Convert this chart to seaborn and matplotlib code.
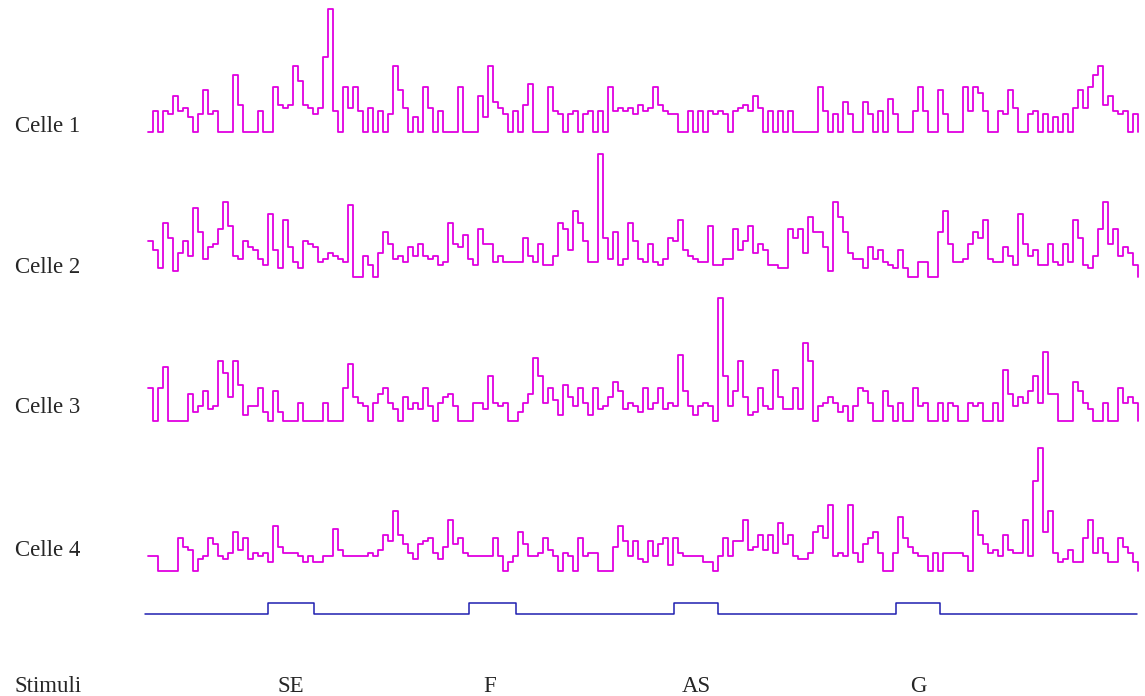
import matplotlib
matplotlib.use("Agg")
import matplotlib.pyplot as plt
import numpy as np
import pandas as pd
import seaborn as sns

# firing-rate traces, one value per time bin
celle_1 = [0, 7, 0, 7, 6, 12, 7, 8, 5, 0, 6, 14, 6, 7, 0, 0, 0, 19, 9, 0,
           0, 0, 7, 0, 0, 15, 9, 8, 9, 22, 17, 9, 8, 6, 8, 25, 41, 7, 0, 15,
           8, 15, 7, 0, 8, 0, 7, 0, 6, 22, 14, 8, 0, 5, 0, 15, 8, 0, 7, 0,
           0, 0, 15, 0, 0, 0,
           12, 5, 22, 10, 8, 6, 0, 7, 0, 9, 16, 0, 0, 0, 15, 7, 6, 0, 6, 7,
           0, 6, 7, 0, 7, 0, 15, 7, 8, 7, 8, 6, 9, 7, 8, 15, 9, 7, 6, 6,
           0, 0, 7, 0, 7, 0, 7, 6, 7, 6, 0, 7, 8, 9, 7, 12, 8, 0, 7, 0,
           7, 0, 7, 0, 0, 0,
           0, 0, 15, 7, 0, 6, 0, 10, 6, 0, 0, 10, 6, 0, 7, 0, 11, 6, 0, 0,
           0, 7, 15, 7, 0, 0, 14, 6, 0, 0, 0, 15, 7, 15, 13, 7, 0, 0, 7, 6,
           14, 8, 0, 0, 6, 7, 0, 6, 0, 5, 0, 6, 0, 8, 14, 8, 15, 19, 22, 9,
           12, 7, 6, 7, 0, 6, 0]
celle_2 = [12, 9, 3, 18, 13, 2, 8, 12, 7, 23, 15, 6, 10, 11, 16, 25, 17, 7, 6, 12,
           10, 9, 6, 4, 21, 9, 3, 19, 10, 5, 3, 12, 11, 10, 5, 6, 8, 7, 6, 5,
           24, 0, 0, 7, 4, 0, 8, 15, 11, 6, 7, 5, 10, 7, 11, 7, 6, 7, 4, 5,
           18, 11, 10, 14, 6, 4,
           16, 11, 11, 5, 7, 5, 5, 5, 5, 13, 7, 5, 11, 4, 4, 7, 18, 16, 9, 22,
           18, 12, 5, 5, 41, 13, 6, 15, 4, 6, 18, 12, 6, 5, 11, 5, 4, 6, 13, 12,
           19, 9, 7, 6, 5, 5, 17, 4, 4, 6, 6, 16, 9, 12, 17, 8, 11, 9, 4, 4,
           3, 3, 16, 13, 16, 8,
           20, 15, 15, 10, 2, 25, 20, 15, 8, 6, 6, 3, 10, 6, 9, 5, 4, 3, 9, 3,
           0, 0, 5, 5, 0, 0, 15, 22, 11, 5, 5, 6, 11, 15, 13, 19, 6, 5, 5, 10,
           7, 4, 21, 11, 7, 9, 4, 4, 11, 5, 4, 11, 5, 19, 13, 4, 3, 7, 16, 25,
           11, 16, 7, 10, 8, 4, 0]
celle_3 = [11, 0, 11, 18, 0, 0, 0, 0, 9, 3, 5, 10, 4, 5, 20, 16, 8, 20, 12, 2,
           5, 5, 11, 3, 0, 10, 3, 0, 0, 0, 6, 0, 0, 0, 0, 6, 0, 0, 0, 11,
           19, 8, 6, 5, 0, 6, 9, 11, 6, 4, 0, 8, 4, 6, 4, 11, 5, 0, 6, 8,
           9, 5, 0, 0, 0, 6,
           6, 4, 15, 6, 5, 6, 0, 0, 3, 6, 9, 21, 15, 6, 11, 7, 2, 12, 8, 5,
           11, 6, 2, 11, 4, 5, 8, 13, 10, 4, 6, 5, 3, 11, 4, 6, 11, 4, 6, 5,
           22, 10, 5, 2, 5, 6, 5, 0, 41, 15, 5, 10, 20, 8, 2, 3, 11, 5, 4, 17,
           8, 4, 4, 11, 4, 26,
           20, 0, 5, 6, 8, 6, 3, 5, 0, 5, 11, 10, 6, 0, 0, 10, 5, 0, 6, 0,
           0, 11, 5, 6, 0, 0, 6, 0, 6, 5, 0, 0, 6, 5, 6, 0, 0, 6, 0, 17,
           9, 5, 8, 6, 10, 15, 6, 23, 9, 9, 0, 0, 0, 13, 10, 6, 4, 0, 0, 6,
           0, 0, 11, 6, 8, 6, 0]
celle_4 = [5, 5, 0, 0, 0, 0, 11, 8, 7, 0, 4, 5, 11, 9, 5, 4, 6, 13, 7, 11,
           4, 6, 5, 6, 3, 15, 8, 6, 6, 6, 5, 3, 5, 3, 3, 5, 5, 14, 7, 5,
           5, 5, 5, 5, 6, 5, 7, 12, 10, 20, 12, 9, 6, 4, 9, 10, 11, 6, 4, 8,
           17, 9, 11, 6, 5, 5,
           5, 5, 5, 11, 5, 0, 3, 5, 13, 9, 5, 5, 6, 11, 7, 5, 0, 6, 5, 0,
           11, 5, 6, 6, 0, 0, 0, 8, 15, 10, 5, 10, 4, 3, 10, 5, 9, 11, 2, 11,
           6, 5, 5, 5, 5, 3, 3, 0, 5, 11, 5, 10, 10, 17, 7, 8, 12, 7, 12, 6,
           16, 9, 12, 5, 4, 4,
           6, 13, 15, 11, 22, 5, 6, 5, 22, 6, 3, 9, 11, 13, 6, 0, 0, 6, 18, 11,
           8, 6, 5, 5, 0, 6, 0, 6, 6, 6, 6, 5, 0, 20, 12, 9, 6, 7, 5, 12,
           7, 6, 6, 17, 5, 30, 41, 13, 20, 6, 3, 4, 7, 3, 3, 11, 17, 6, 11, 6,
           3, 3, 11, 8, 6, 3, 0]

cell_names = ["Celle 1", "Celle 2", "Celle 3", "Celle 4"]
traces = [celle_1, celle_2, celle_3, celle_4]

# stimulus blocks (in time bins)
stim_names = ["SE", "F", "AS", "G"]
stim_on = [24.0, 64.2, 105.2, 149.6]
stim_off = [33.2, 73.6, 114.0, 158.4]
stim_start, stim_end = -0.6, 197.8

W, H = 1145, 696
X0 = 148      # px of bin 0
BIN = 5       # px per bin
UNIT = 3      # px per rate unit
baseline_px = [132, 277, 421, 571]
stim_low, stim_high = 614, 603
label_y = [127, 268, 408, 550]
stim_label_x = [291, 490, 696, 918]
bottom_y = 686

sns.set_theme(style="white")
plt.rcParams['font.family'] = ['Liberation Serif', 'DejaVu Serif']

fig = plt.figure(figsize=(W / 100, H / 100), dpi=100)
ax = fig.add_axes([0, 0, 1, 1])

rows = []
for name, vals, base in zip(cell_names, traces, baseline_px):
    off = (H - base) / UNIT
    for i, v in enumerate(vals):
        rows.append((name, i, v, v + off))
df = pd.DataFrame(rows, columns=["cell", "t", "rate", "y"])

sns.lineplot(data=df, x="t", y="y", hue="cell", palette=["#e000e0"] * 4,
             drawstyle="steps-post", estimator=None, legend=False,
             lw=1.3, ax=ax)

# stimulus trace
st_t = [stim_start]
st_v = [0]
for a, b in zip(stim_on, stim_off):
    st_t += [a, b]
    st_v += [1, 0]
st_t.append(stim_end)
st_v.append(0)
st = pd.DataFrame({"t": st_t, "on": st_v})
st["y"] = (H - stim_low) / UNIT + st["on"] * (stim_low - stim_high) / UNIT
sns.lineplot(data=st, x="t", y="y", drawstyle="steps-post", estimator=None,
             color="#1f1fb0", lw=1.1, ax=ax, sort=False)

ax.set_xlim(-X0 / BIN, (W - X0) / BIN)
ax.set_ylim(0, H / UNIT)
ax.axis("off")

for name, ly in zip(cell_names, label_y):
    fig.text(15 / W, 1 - ly / H, name, ha="left", va="center", fontsize=16.5)
fig.text(15 / W, 1 - bottom_y / H, "Stimuli", ha="left", va="center", fontsize=16.5)
for name, sx in zip(stim_names, stim_label_x):
    fig.text(sx / W, 1 - bottom_y / H, name, ha="center", va="center", fontsize=16.5)

fig.savefig("out.png", dpi=100)
